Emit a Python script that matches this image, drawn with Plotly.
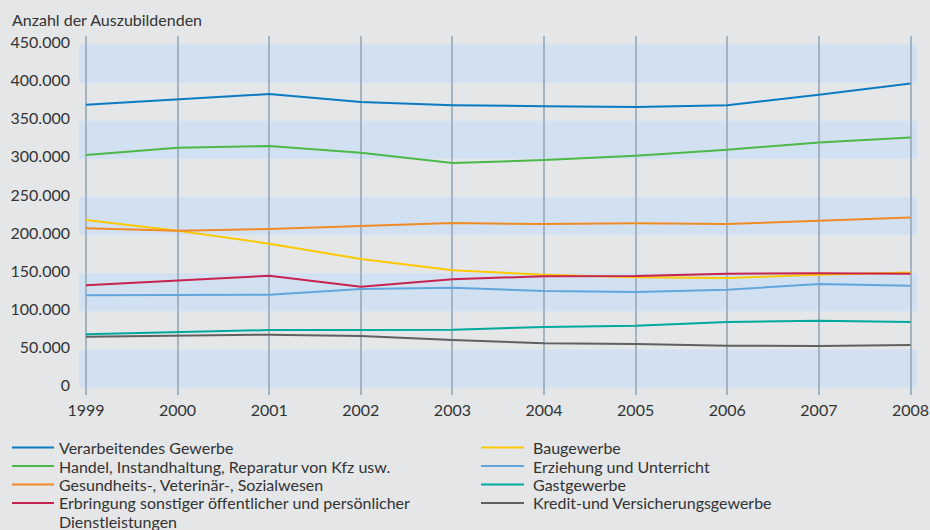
import plotly.graph_objects as go

years = [1999, 2000, 2001, 2002, 2003, 2004, 2005, 2006, 2007, 2008]

verarbeitendes = [371000, 378000, 385000, 374500, 370500, 369000, 368000, 370500, 384000, 399000]
handel = [305000, 314500, 317000, 308000, 294500, 298500, 304000, 312000, 321500, 328000]
gesundheit = [209000, 205700, 208000, 211500, 215800, 214500, 215400, 214500, 219000, 223000]
baugewerbe = [219800, 205700, 188700, 168600, 153800, 148000, 144600, 143700, 148000, 151000]
erbringung = [134000, 140000, 146700, 132300, 142000, 146000, 146300, 149300, 149800, 149300]
erziehung = [121000, 121400, 121800, 129200, 131000, 126600, 125300, 128300, 135800, 133600]
gastgewerbe = [69800, 72800, 75400, 75400, 75800, 79400, 81100, 85900, 87600, 85900]
kredit = [66700, 68000, 69300, 67600, 62300, 58000, 57000, 54800, 54400, 55800]

series_names = [
    "Verarbeitendes Gewerbe",
    "Handel, Instandhaltung, Reparatur von Kfz usw.",
    "Gesundheits-, Veterinär-, Sozialwesen",
    "Erbringung sonstiger öffentlicher und persönlicher<br>Dienstleistungen",
    "Baugewerbe",
    "Erziehung und Unterricht",
    "Gastgewerbe",
    "Kredit-und Versicherungsgewerbe",
]
series_values = [verarbeitendes, handel, gesundheit, erbringung,
                 baugewerbe, erziehung, gastgewerbe, kredit]
series_colors = ["#0b7bc1", "#4cb848", "#f08a24", "#c8234f",
                 "#fcc800", "#62a6dc", "#00a99d", "#606060"]

y_ticks = [0, 50000, 100000, 150000, 200000, 250000, 300000, 350000, 400000, 450000]
band_ranges = [(0, 50000), (100000, 150000), (200000, 250000), (300000, 350000), (400000, 450000)]

title_text = "Anzahl der Auszubildenden"

FONT = "Lato"
FS = 16
TXT = "#333333"
W, H = 930, 530
L, R, T, B = 79, 13, 36, 135
PW, PH = W - L - R, H - T - B


def px(x):
    return (x - L) / PW


def py(y):
    return (H - B - y) / PH


fig = go.Figure()

draw_order = [7, 6, 5, 4, 3, 2, 1, 0]
for i in draw_order:
    fig.add_trace(go.Scatter(
        x=years, y=series_values[i], mode="lines",
        line=dict(color=series_colors[i], width=2),
        name=series_names[i], showlegend=False, hoverinfo="skip",
    ))

shapes = []
for lo, hi in band_ranges:
    shapes.append(dict(type="rect", xref="paper", yref="y", x0=0, x1=1, y0=lo, y1=hi,
                       fillcolor="#d2e1f2", line=dict(width=0), layer="below"))

annotations = [dict(text=title_text, xref="paper", yref="paper", x=px(10), y=py(19),
                    xanchor="left", yanchor="middle", showarrow=False,
                    font=dict(family=FONT, size=FS, color=TXT))]

rows = [447.5, 466, 484.5, 503]
line_gap = 18.3
for k in range(4):
    yrow = rows[k]
    for col, (lx0, lx1, tx) in enumerate([(12, 54, 57), (481, 524, 531)]):
        idx = k + 4 * col
        shapes.append(dict(type="line", xref="paper", yref="paper", x0=px(lx0), x1=px(lx1),
                           y0=py(yrow), y1=py(yrow),
                           line=dict(color=series_colors[idx], width=2)))
        for j, part in enumerate(series_names[idx].split("<br>")):
            annotations.append(dict(text=part, xref="paper", yref="paper",
                                    x=px(tx), y=py(yrow + j * line_gap),
                                    xanchor="left", yanchor="middle",
                                    align="left", showarrow=False,
                                    font=dict(family=FONT, size=FS, color=TXT)))

fig.update_layout(
    width=W, height=H,
    margin=dict(l=L, r=R, t=T, b=B, pad=0, autoexpand=False),
    paper_bgcolor="#e4e6e8", plot_bgcolor="#e4e6e8",
    separators=",.",
    font=dict(family=FONT, size=FS, color=TXT),
    shapes=shapes, annotations=annotations,
    showlegend=False,
)
fig.update_xaxes(
    range=[1998.924, 2008.071], tickmode="array", tickvals=years,
    ticktext=[str(y) for y in years],
    showgrid=True, gridcolor="#a3b3bf", gridwidth=2,
    zeroline=False, showline=False, ticks="", automargin=False,
    tickfont=dict(family=FONT, size=FS, color=TXT),
    ticklabelstandoff=4,
    fixedrange=True,
)
fig.update_yaxes(
    range=[-9840, 461200], tickmode="array", tickvals=y_ticks,
    tickformat=",d", showgrid=False, zeroline=False, showline=False, ticks="",
    automargin=False,
    tickfont=dict(family=FONT, size=FS, color=TXT),
    ticklabelstandoff=8, ticklabelshift=-2,
    fixedrange=True,
)

fig.write_html("out.html")
